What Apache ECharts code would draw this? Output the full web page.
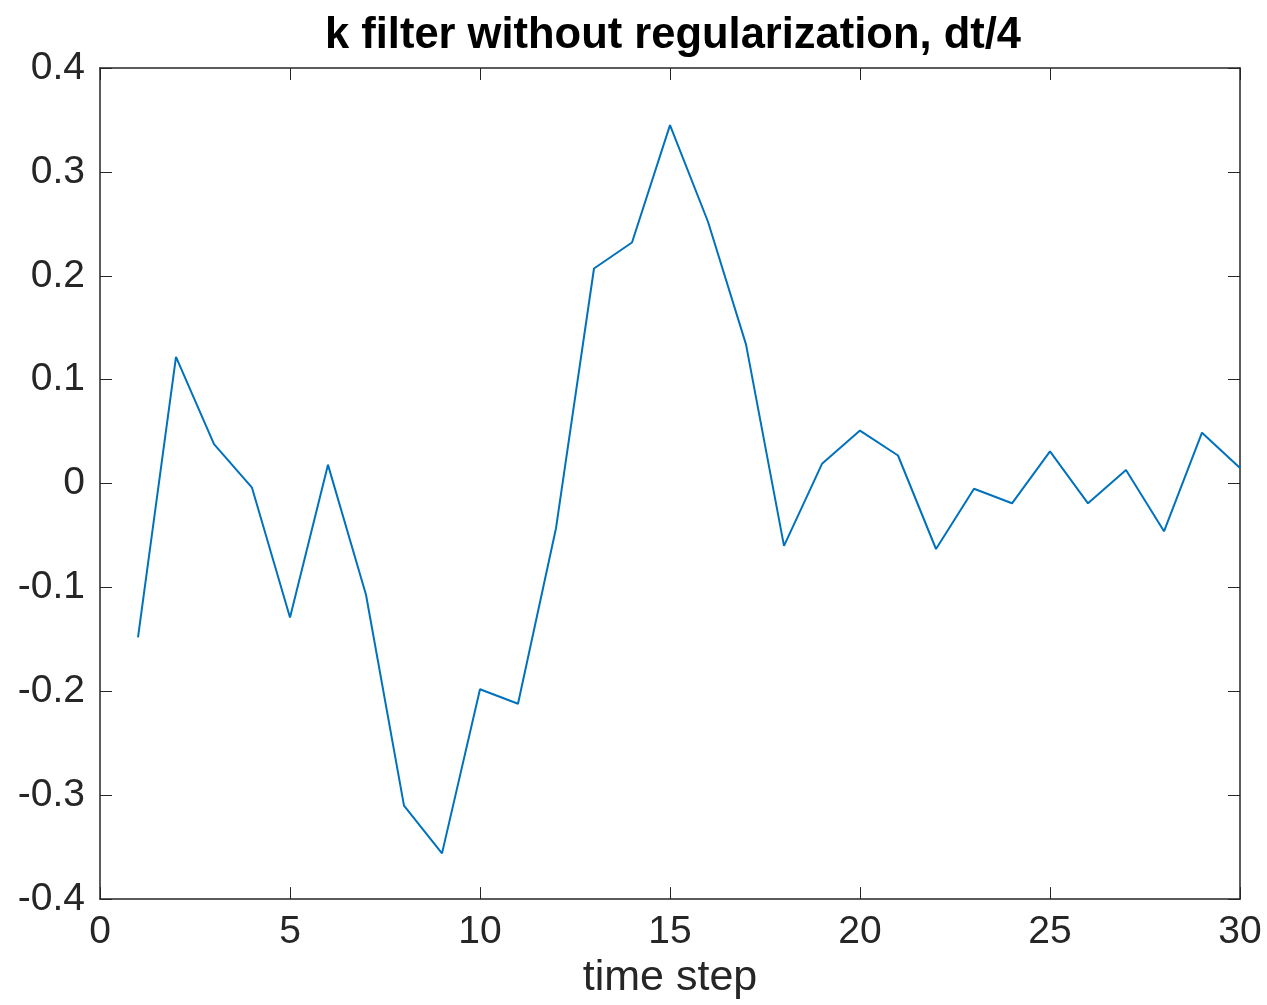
<!DOCTYPE html>
<html>
<head>
<meta charset="utf-8">
<script src="https://cdn.jsdelivr.net/npm/echarts@6/dist/echarts.min.js"></script>
<style>html,body{margin:0;padding:0;background:#fff;overflow:hidden;}#c{width:1267px;height:1005px;}</style>
</head>
<body>
<div id="c"></div>
<script>
const timeSteps = [1,2,3,4,5,6,7,8,9,10,11,12,13,14,15,16,17,18,19,20,21,22,23,24,25,26,27,28,29,30];
const kValues = [-0.148,0.122,0.038,-0.004,-0.129,0.018,-0.107,-0.310,-0.356,-0.198,-0.212,-0.043,0.207,0.232,0.345,0.252,0.134,-0.060,0.019,0.051,0.027,-0.063,-0.005,-0.019,0.031,-0.019,0.013,-0.046,0.049,0.015];
const xTicks = [0,5,10,15,20,25,30];
const yTicks = [-0.4,-0.3,-0.2,-0.1,0,0.1,0.2,0.3,0.4];
const titleText = 'k filter without regularization, dt/4';
const xLabel = 'time step';

const font = '"Liberation Sans", Helvetica, Arial, sans-serif';
const axisColor = '#262626';
const chart = echarts.init(document.getElementById('c'), null, {renderer: 'canvas', width: 1267, height: 1005});
const tickStyle = {show: true, inside: true, length: 12, lineStyle: {color: axisColor, width: 1}};
const axLine = {show: true, onZero: false, lineStyle: {color: axisColor, width: 1.5}};
chart.setOption({
  animation: false,
  backgroundColor: '#fff',
  title: {
    text: titleText, left: 668, top: 9, textAlign: 'center',
    textStyle: {fontFamily: font, fontWeight: 'bold', fontSize: 43.5, color: '#000'}
  },
  grid: {left: 100, top: 68, width: 1140, height: 840, containLabel: false},
  xAxis: [{
    type: 'value', min: xTicks[0], max: xTicks[xTicks.length-1], interval: 5, position: 'bottom',
    name: xLabel, nameLocation: 'middle', nameGap: 56,
    nameTextStyle: {fontFamily: font, fontSize: 43, color: '#262626'},
    axisLine: axLine, axisTick: tickStyle,
    axisLabel: {fontFamily: font, fontSize: 39, color: '#262626', margin: 14},
    splitLine: {show: false}
  }, {
    type: 'value', min: xTicks[0], max: xTicks[xTicks.length-1], interval: 5, position: 'top',
    axisLine: axLine, axisTick: tickStyle,
    axisLabel: {show: false}, splitLine: {show: false}
  }],
  yAxis: [{
    type: 'value', min: yTicks[0], max: yTicks[yTicks.length-1], interval: 0.1, position: 'left',
    axisLine: axLine, axisTick: tickStyle,
    axisLabel: {fontFamily: font, fontSize: 39, color: '#262626', margin: 15,
      formatter: v => { const r = Math.round(v*10)/10; return r === 0 ? '0' : String(r); }},
    splitLine: {show: false}
  }, {
    type: 'value', min: yTicks[0], max: yTicks[yTicks.length-1], interval: 0.1, position: 'right',
    axisLine: axLine, axisTick: tickStyle,
    axisLabel: {show: false}, splitLine: {show: false}
  }],
  series: [{
    type: 'line', xAxisIndex: 0, yAxisIndex: 0,
    data: timeSteps.map((t, i) => [t, kValues[i]]),
    showSymbol: false, symbol: 'none',
    lineStyle: {color: '#0072BD', width: 2},
    itemStyle: {color: '#0072BD'}
  }]
});
</script>
</body>
</html>
